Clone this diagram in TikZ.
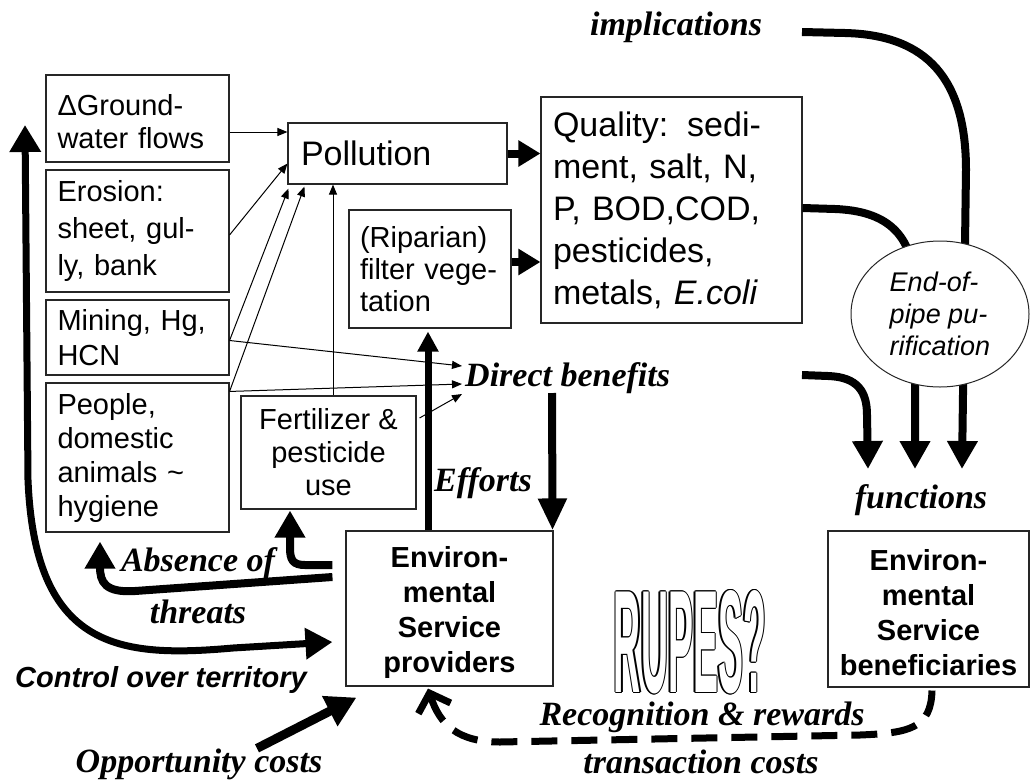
\documentclass[tikz,border=0pt]{standalone}
\usepackage{graphicx}
\usepackage{fontspec}
\setmainfont{Liberation Sans}
\newfontfamily\tms{Liberation Serif}
\usetikzlibrary{arrows.meta,shapes.geometric,calc}

\tikzset{
  box/.style={draw=black!85, line width=1.1pt, fill=white, inner sep=0pt},
  lbox/.style={box, align=left},
  cbox/.style={box, align=center},
  lab/.style={font=\tms\bfseries\itshape\fontsize{34}{40}\selectfont, inner sep=0pt},
  thinarr/.style={line width=1pt, -{Triangle[length=10pt,width=8pt]}},
  bigarr/.style={line width=8pt, -{Triangle[length=28pt,width=29pt]}},
  midarr/.style={line width=8pt, -{Triangle[length=27pt,width=29pt]}},
  outlinetxt/.style={inner sep=0pt, font=\bfseries\fontsize{30}{30}\selectfont},
}
\newcommand\rupesword{\resizebox{152pt}{102pt}{RUPES?}}

\begin{document}
\begin{tikzpicture}[x=1pt,y=-1pt]
\useasboundingbox (0,0) rectangle (1031,782);

% ---- pressures (left column)
\node[lbox, minimum width=183pt, minimum height=87pt, text width=160pt,
      font=\fontsize{29}{33}\selectfont] (gw) at (137.5,118.5) {\rule{0pt}{27pt}ΔGround-\\water flows};
\node[lbox, minimum width=183pt, minimum height=122pt, text width=160pt,
      font=\fontsize{29}{37}\selectfont] (ero) at (137.5,231) {Erosion:\\sheet, gul-\\ly, bank};
\node[lbox, minimum width=183pt, minimum height=75pt, text width=160pt,
      font=\fontsize{29}{35}\selectfont] (mine) at (137.5,337.5) {Mining, Hg,\\HCN};
\node[lbox, minimum width=183pt, minimum height=149pt, text width=160pt,
      font=\fontsize{29}{34}\selectfont] (ppl) at (137.5,457.5) {People,\\domestic\\animals \textasciitilde\\hygiene};

% ---- middle boxes
\node[lbox, minimum width=219pt, minimum height=61pt, text width=193pt,
      font=\fontsize{34}{40}\selectfont] (pol) at (397.5,153.5) {Pollution};
\node[lbox, minimum width=162pt, minimum height=118pt, text width=140pt,
      font=\fontsize{29}{32}\selectfont] (rip) at (430,269) {(Riparian)\\filter vege-\\tation};
\node[lbox, minimum width=261pt, minimum height=226pt, text width=237pt,
      font=\fontsize{34}{42}\selectfont] (qual) at (671.5,210)
      {Quality:\hspace{19pt}sedi-\\ment, salt, N,\\P, BOD,COD,\\pesticides,\\metals, \textit{E.coli}};
\node[cbox, minimum width=175pt, minimum height=113pt,
      font=\fontsize{29}{33}\selectfont] (fert) at (328.5,452.5) {Fertilizer \&\\pesticide\\use};

% ---- actors
\node[cbox, minimum width=207pt, minimum height=155pt,
      font=\bfseries\fontsize{29}{35}\selectfont] (prov) at (449.5,608.5) {\rule{0pt}{29pt}Environ-\\mental\\Service\\providers};
\node[cbox, minimum width=201pt, minimum height=156pt,
      font=\bfseries\fontsize{29}{35}\selectfont] (ben) at (928.5,609) {\rule{0pt}{29pt}Environ-\\mental\\Service\\beneficiaries};

% ---- italic labels
\node[lab] (impl) at (676,27) {implications};
\node[lab, anchor=west] (db) at (465,378) {Direct benefits};
\node[lab] (eff) at (483,483) {Efforts};
\node[lab] (func) at (921,500) {functions};
\node[lab] (abs) at (198,563) {Absence of};
\node[lab] (thr) at (198,612) {threats};
\node[lab] (opp) at (199,764) {Opportunity costs};
\node[lab] (rec) at (702,717) {Recognition \& rewards};
\node[lab] (trc) at (701,762) {transaction costs};
\node[inner sep=0pt, font=\bfseries\itshape\fontsize{29}{35}\selectfont] (ctrl) at (161,680) {Control over territory};

% ---- free ends of the flows on the right
\coordinate (ia) at (802,32);
\coordinate (dbr) at (802,375);
\coordinate (f1) at (868,469);
\coordinate (f2) at (915,469);
\coordinate (f3) at (962,469);
\coordinate (ctop) at (25,125);

% ---- thin arrows into pollution and direct benefits
\draw[thinarr] ([yshift=-13.5pt]gw.east) -- ([yshift=21.5pt]pol.west);
\draw[thinarr] ([yshift=-4pt]ero.east) -- ([yshift=-10pt]pol.west);
\draw[thinarr] ([yshift=-3pt]mine.east) -- ([xshift=1pt,yshift=-4pt]pol.south west);
\draw[thinarr] ([yshift=-9pt]ppl.north east) -- ([xshift=17pt,yshift=-2pt]pol.south west);
\draw[thinarr] ([xshift=4.5pt]fert.north) -- ([xshift=4.5pt]fert.north |- pol.south);
\draw[thinarr] ([yshift=-3pt]mine.east) -- ([xshift=-3pt,yshift=12pt]db.west);
\draw[thinarr] ([yshift=-9pt]ppl.north east) -- ([xshift=-3pt,yshift=-6pt]db.west);
\draw[thinarr] ([xshift=3pt,yshift=34.5pt]fert.east) -- ([xshift=-3pt,yshift=-16pt]db.west);

% ---- thick arrows into water quality
\draw[line width=8pt, -{Triangle[length=22pt,width=25pt]}] (pol.east) -- (pol.east -| qual.west);
\draw[line width=8pt, -{Triangle[length=22pt,width=25pt]}]
  ($(rip.east)+(0,-7)$) -- ($(rip.east -| qual.west)+(0,-7)$);

% ---- efforts
\draw[line width=7pt, -{Triangle[length=20pt,width=20pt]}]
  ([xshift=-21.5pt]prov.north) -- ([xshift=-2pt,yshift=-3pt]rip.south);
\draw[line width=8pt, -{Triangle[length=32pt,width=27pt]}]
  ([xshift=87pt,yshift=-15pt]db.west) -- ([xshift=-1pt]prov.north east);

% ---- flows towards the functions
\draw[bigarr] (ia) -- (845,33) .. controls (928,35) and (966,80) .. (966,170) -- (f3);
\draw[bigarr] ([yshift=2pt]qual.east) -- (835,209) .. controls (885,211) and (914,232) .. (915,290) -- (f2);
\draw[bigarr] (dbr) -- (828,376) .. controls (858,377) and (867,392) .. (867,415) -- (f1);

% ---- end-of-pipe treatment sits over the flows
\node[ellipse, draw=black!85, line width=1pt, fill=white, inner sep=0pt,
      minimum width=178pt, minimum height=146pt, align=left,
      font=\itshape\fontsize{27}{32}\selectfont] (epp) at (940,314) {End-of-\\pipe pu-\\rification};

% ---- absence of threats
\draw[midarr] ([xshift=-13pt,yshift=31.5pt]prov.west) -- (135,591)
  .. controls (105,593) and (100,582) .. (100,567) -- ([xshift=-37.5pt,yshift=-9pt]ppl.south);
\draw[midarr] ([xshift=-13pt,yshift=43.5pt]prov.west) -- (305,565)
  .. controls (293,565) and (290,560) .. (290,548) -- ([xshift=-38.5pt,yshift=-1pt]fert.south);

% ---- control over territory
\draw[line width=7pt, {Triangle[length=27pt,width=30pt]}-{Triangle[length=27pt,width=30pt]}]
  (ctop) -- (28,480) .. controls (35,650) and (120,658) .. (233,648)
  -- ([xshift=-13pt,yshift=-33.5pt]prov.west);

% ---- opportunity costs
\draw[line width=9pt, -{Triangle[length=30pt,width=32pt]}]
  ([xshift=58pt]opp.north) -- ([xshift=11pt,yshift=-11pt]prov.south west);

% ---- recognition & rewards
\draw[line width=7pt, dash pattern=on 26pt off 14pt, -{Straight Barb[length=16pt,width=34pt]}]
  ([xshift=3.5pt,yshift=-3pt]ben.south) .. controls (931,728) and (910,733) .. (860,735)
  -- (500,742) .. controls (458,742) and (440,725) .. ([xshift=-21.5pt,yshift=-2pt]prov.south);

% ---- outlined question: dark copies around a white face
\foreach \a in {0,45,...,315}
  \node[outlinetxt, text=black] at ($(690,642)+(\a:1.2)$) {\rupesword};
\node[outlinetxt, text=white] (rupes) at (690,642) {\rupesword};

\end{tikzpicture}
\end{document}
